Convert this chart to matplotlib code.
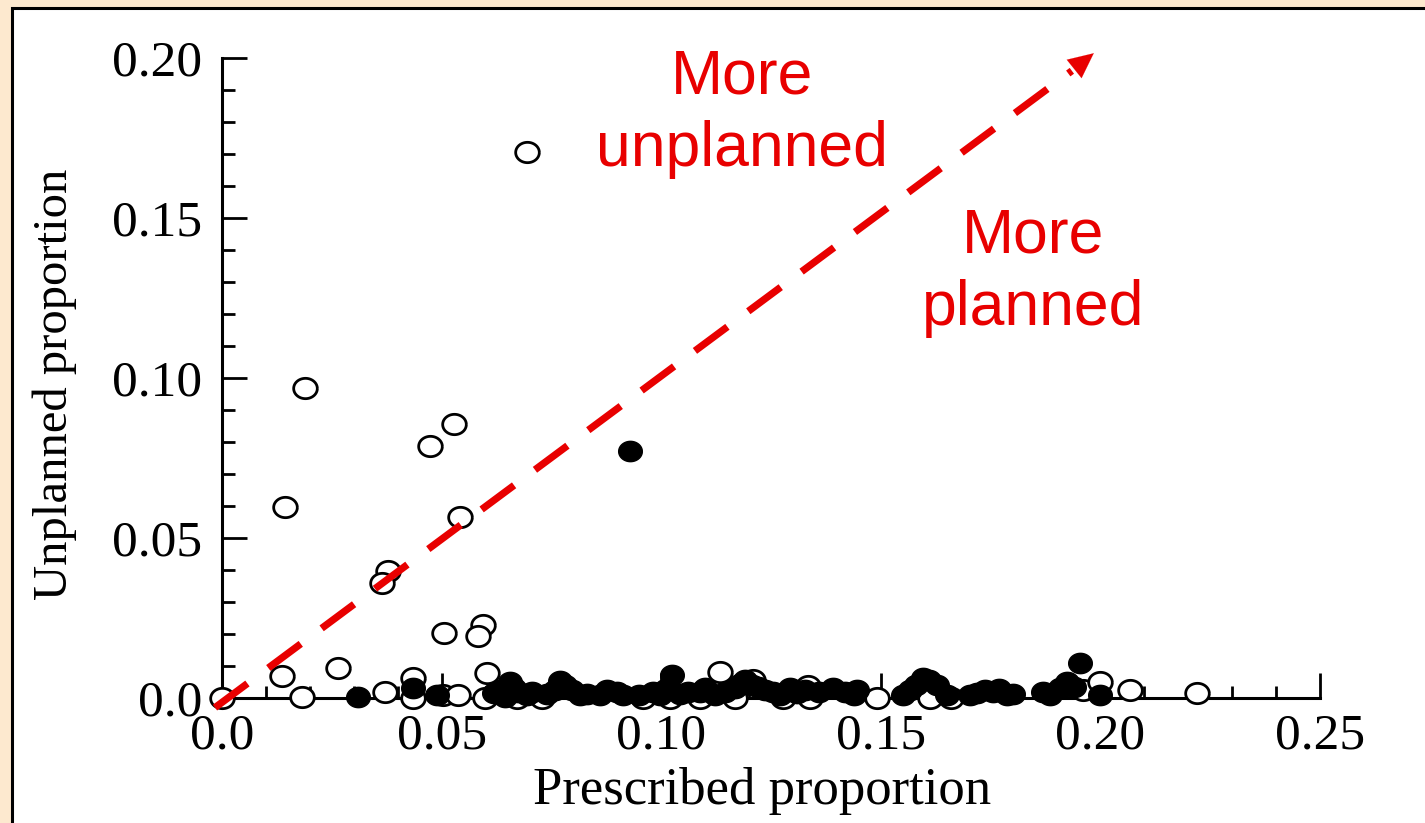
import matplotlib
matplotlib.use("Agg")
import matplotlib.pyplot as plt
from matplotlib.patches import Rectangle
import numpy as np

# ---------------- data ----------------
open_x = [0.0694, 0.0189, 0.0528, 0.0474, 0.0143, 0.0542, 0.0378, 0.0364, 0.0594, 0.0583,
          0.0505, 0.0264, 0.0137, 0.0603, 0.0000, 0.0182, 0.0371, 0.0435, 0.0435, 0.0503,
          0.0537, 0.0599, 0.0672, 0.0729, 0.1020, 0.1088, 0.1134, 0.1209, 0.1277, 0.1339,
          0.1612, 0.1960, 0.2000, 0.2067, 0.2220, 0.1334, 0.0958, 0.1167, 0.1492, 0.1660]
open_y = [0.1706, 0.0969, 0.0856, 0.0788, 0.0597, 0.0566, 0.0397, 0.0359, 0.0228, 0.0194,
          0.0203, 0.0094, 0.0069, 0.0078, 0.0000, 0.0003, 0.0019, 0.0063, 0.0000, 0.0009,
          0.0009, 0.0000, 0.0000, 0.0000, 0.0000, 0.0000, 0.0081, 0.0056, 0.0000, 0.0000,
          0.0000, 0.0025, 0.0050, 0.0025, 0.0016, 0.0038, 0.0000, 0.0000, 0.0000, 0.0000]

filled_x = [0.0929, 0.1954, 0.0310, 0.0435, 0.0490, 0.0633, 0.0656, 0.0674, 0.0644, 0.0694,
            0.0758, 0.0770, 0.0797, 0.0815, 0.0877, 0.0913, 0.0981, 0.0997, 0.1025, 0.1043,
            0.1088, 0.1123, 0.1168, 0.1191, 0.1207, 0.1236, 0.1270, 0.1293, 0.1327, 0.1391,
            0.1418, 0.1446, 0.1551, 0.1566, 0.1596, 0.1628, 0.1651, 0.1703, 0.1737, 0.1755,
            0.1787, 0.1885, 0.1908, 0.1924, 0.1999,
            0.0620, 0.0665, 0.0705, 0.0740, 0.0780, 0.0830, 0.0860, 0.0900, 0.0950, 0.1010,
            0.1060, 0.1100, 0.1145, 0.1180, 0.1220, 0.1255, 0.1310, 0.1360, 0.1440, 0.1580,
            0.1610, 0.1720, 0.1770, 0.1800, 0.1870, 0.1940]
filled_y = [0.0772, 0.0109, 0.0003, 0.0031, 0.0009, 0.0025, 0.0050, 0.0019, 0.0003, 0.0009,
            0.0025, 0.0053, 0.0025, 0.0009, 0.0025, 0.0009, 0.0019, 0.0009, 0.0072, 0.0013,
            0.0019, 0.0009, 0.0031, 0.0056, 0.0041, 0.0025, 0.0009, 0.0031, 0.0025, 0.0031,
            0.0019, 0.0025, 0.0009, 0.0025, 0.0063, 0.0041, 0.0009, 0.0009, 0.0025, 0.0019,
            0.0009, 0.0009, 0.0031, 0.0050, 0.0009,
            0.0015, 0.0030, 0.0020, 0.0012, 0.0040, 0.0012, 0.0010, 0.0018, 0.0010, 0.0028,
            0.0020, 0.0030, 0.0020, 0.0045, 0.0035, 0.0018, 0.0015, 0.0020, 0.0010, 0.0040,
            0.0055, 0.0015, 0.0028, 0.0012, 0.0018, 0.0035]

x_ticks = [0.0, 0.05, 0.10, 0.15, 0.20, 0.25]
x_tick_labels = ["0.0", "0.05", "0.10", "0.15", "0.20", "0.25"]
y_ticks = [0.0, 0.05, 0.10, 0.15, 0.20]
y_tick_labels = ["0.0", "0.05", "0.10", "0.15", "0.20"]

x_label = "Prescribed proportion"
y_label = "Unplanned proportion"
note_upper = "More\nunplanned"
note_lower = "More\nplanned"

# ---------------- figure ----------------
W, H = 1425, 823
fig = plt.figure(figsize=(W / 100, H / 100), dpi=100)
fig.patch.set_facecolor("#fde9cf")

# white panel with black border (left & top)
bg = fig.add_axes([0, 0, 1, 1], zorder=-5)
bg.set_axis_off()
bg.set_xlim(0, 1)
bg.set_ylim(0, 1)
bg.add_patch(Rectangle((12 / W, -0.05), 1.2, 1 - 8 / H + 0.05,
                       facecolor="white", edgecolor="black", linewidth=2.2,
                       clip_on=False))

ax = fig.add_axes([222 / W, 1 - 698 / H, (1320 - 222) / W, (698 - 58) / H])
ax.set_facecolor("none")
ax.set_xlim(0, 0.25)
ax.set_ylim(0, 0.20)

for s in ["top", "right"]:
    ax.spines[s].set_visible(False)
for s in ["left", "bottom"]:
    ax.spines[s].set_linewidth(2.2)

serif = "Liberation Serif"
ax.set_xticks(x_ticks)
ax.set_xticklabels(x_tick_labels, fontfamily=serif, fontsize=37)
ax.set_yticks(y_ticks)
ax.set_yticklabels(y_tick_labels, fontfamily=serif, fontsize=37)
ax.set_xticks(np.arange(0, 0.2501, 0.01), minor=True)
ax.set_yticks(np.arange(0, 0.2001, 0.01), minor=True)
ax.tick_params(which="major", direction="in", length=18, width=2, pad=11)
ax.tick_params(which="minor", direction="in", length=9, width=2)
ax.tick_params(axis="y", which="major", pad=14)

# slightly wide (elliptical) circle marker, as in the scanned original
theta = np.linspace(0, 2 * np.pi, 61)
ell = np.column_stack([np.cos(theta), 0.86 * np.sin(theta)])

ax.scatter(open_x, open_y, s=290, marker=ell, facecolors="white", edgecolors="black",
           linewidths=2.0, zorder=3, clip_on=False)
ax.scatter(filled_x, filled_y, s=290, marker=ell, facecolors="black", edgecolors="black",
           linewidths=1.0, zorder=4, clip_on=False)

ax.text(0.492, -0.145, x_label, transform=ax.transAxes, ha="center", va="center",
        fontfamily=serif, fontsize=38)
ax.text(-0.152, 0.49, y_label, transform=ax.transAxes, ha="center", va="center",
        rotation=90, fontfamily=serif, fontsize=35)

# red dashed arrow
red = "#e80000"
x0, y0 = -0.0016, -0.003
x1, y1 = 0.1935, 0.196
ax.plot([x0, x1], [y0, y1], color=red, lw=5.2, ls=(0, (5.6, 3.6)),
        solid_capstyle="butt", dash_capstyle="butt", clip_on=False, zorder=5)
ax.annotate("", xy=(0.1985, 0.2015), xytext=(0.1955, 0.1982),
            arrowprops=dict(arrowstyle="-|>,head_length=1.8,head_width=0.85",
                            color=red, lw=0.1, shrinkA=0, shrinkB=0),
            annotation_clip=False, zorder=6)

sans = "Liberation Sans"
fig.text(742 / W, 1 - 113 / H, note_upper, ha="center", va="center", color=red,
         fontfamily=sans, fontsize=45, linespacing=1.3)
fig.text(1033 / W, 1 - 272 / H, note_lower, ha="center", va="center", color=red,
         fontfamily=sans, fontsize=45, linespacing=1.3)

fig.savefig("out.png", dpi=100, facecolor=fig.get_facecolor())
